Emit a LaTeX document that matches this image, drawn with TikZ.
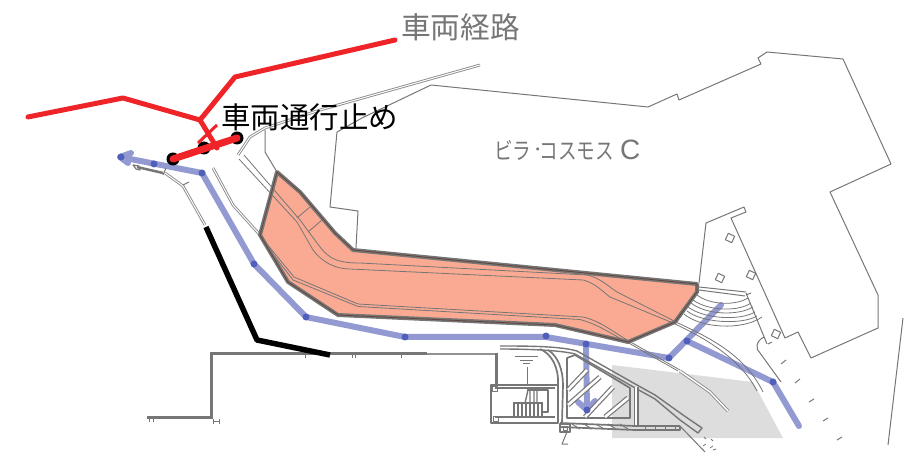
\documentclass[tikz,border=0pt]{standalone}
\usepackage{graphicx}
\usepackage{fontspec}
\setmainfont{Liberation Sans}
\newfontfamily\cjk{Noto Sans CJK JP}
\definecolor{linegray}{RGB}{118,118,118}
\definecolor{routeblue}{RGB}{138,145,206}
\definecolor{dotblue}{RGB}{80,96,186}
\definecolor{routered}{RGB}{238,36,40}
\definecolor{salmon}{RGB}{250,170,146}
\definecolor{apron}{RGB}{221,221,221}
\tikzset{
 thin line/.style={draw=linegray,line width=1pt,line join=round},
 fine line/.style={draw=linegray,line width=.8pt,line join=round},
 wall/.style={draw=linegray,line width=1.7pt,line join=round},
 heavy/.style={draw=linegray,line width=3pt},
 road/.style={draw=linegray!85,double=white,double distance=1pt,line width=.9pt,line join=round},
 hatchbar/.style={draw=linegray,double=white,double distance=2.6pt,line width=1.2pt,line join=round},
 blue route/.style={draw=routeblue,line width=6pt,line join=round,line cap=round,opacity=.92},
 red route/.style={draw=routered,line width=5pt,line join=round,line cap=round},
 black route/.style={draw=black,line width=5.5pt,line join=round},
 bdot/.style={circle,fill=dotblue,inner sep=0pt,minimum size=7pt},
 endpoint/.style={circle,fill=black,inner sep=0pt,minimum size=13pt},
 label text/.style={inner sep=0pt},
}
\begin{document}
\begin{tikzpicture}[x=1pt,y=-1pt]
\useasboundingbox (0,0) rectangle (906,473);
% grey apron
\fill[apron] (612,365) -- (753,382) -- (783,438) -- (612,438) -- cycle;
% orange area
\fill[salmon] (277,172) -- (300,192) -- (335,233) -- (353,250) -- (697,284) -- (697,292) -- (675,322) -- (628,342) -- (555,325) -- (338,315) -- (288,282) -- (260,235) -- cycle;
% blue routes
\draw[blue route] (202,173) -- (254,264) -- (306,317) -- (405,337) -- (546,337) -- (669,358) -- (721,305);
\draw[blue route] (687,341) -- (773,382) -- (799,426);
\draw[blue route] (202,173) -- (120,157) (131,153) -- (120,157) -- (128,163);
\draw[blue route] (586,345) -- (587,410) (578,402) -- (587,410) -- (595,401);
% building outlines
\draw[thin line] (337,132) -- (330,207) -- (358,211) -- (356,248);
\draw[thin line] (337,132) -- (362,118) -- (431,85) -- (648,107) -- (677,94) -- (679,100) -- (761,64) -- (758,58) -- (767,52) -- (843,59) -- (891,164) -- (830,192) -- (878,295) -- (878,328) -- (811,358) -- (798,332) -- (785,338) -- (731,218) -- (746,212) -- (744,207) -- (706,223) -- (699,283);
\draw[road] (480,65) -- (320,110) -- (265,128) -- (250,137) -- (238,155);
\draw[thin line] (265,130) -- (265,152) -- (277,172);
% pillars
\foreach \x/\y in {730/238,720/278,751/275,776/334}{
 \draw[thin line,rotate around={-25:(\x,\y)}] (\x-3.5,\y-3.5) rectangle (\x+3.5,\y+3.5);}
% stepped terrace
\draw[thin line] (699,287) -- (746,292) (699,290) -- (745,296) (746,293) -- (767,344) (746,295) -- (751,293) (768,344) -- (772,342);
\draw[fine line] (697,295) .. controls (710,305) and (735,306) .. (748,298);
\draw[fine line] (693,300) .. controls (708,311) and (738,312) .. (751,303);
\draw[fine line] (691,303) .. controls (706,315) and (738,316) .. (753,307);
\draw[fine line] (688,307) .. controls (704,319) and (740,321) .. (755,312);
\draw[fine line] (687,311) .. controls (702,323) and (742,325) .. (757,316);
\draw[fine line] (684,314) .. controls (700,328) and (742,331) .. (762,317);
% right side entry
\draw[thin line] (764,337) .. controls (756,341) and (755,349) .. (760,353) -- (781,382);
\draw[thin line] (781,364) -- (786,360) (795,383) -- (800,379) (809,402) -- (814,399) (823,421) -- (828,418) (837,440) -- (842,437);
\draw[thin line] (903,318) -- (888,445);
% road lines through site
\draw[road] (213,168) -- (233,205) -- (260,235);
\draw[fine line] (244,155) -- (300,220) -- (320,247) .. controls (330,260) and (340,263) .. (360,263) -- (587,275) .. controls (600,278) and (608,286) .. (617,292) -- (678,323) .. controls (710,338) and (745,355) .. (763,392);
\draw[fine line] (239,159) -- (297,222) -- (313,250) .. controls (322,262) and (335,269) .. (350,269) -- (583,280) .. controls (595,283) and (602,291) .. (610,297) -- (673,323) .. controls (705,338) and (740,358) .. (757,391);
\draw[fine line] (310,207) -- (297,218) (322,220) -- (308,232);
\draw[fine line] (262,238) -- (294,277) -- (358,304) -- (583,317) .. controls (600,321) and (612,331) .. (627,340) -- (680,370);
\draw[fine line] (263,241) -- (293,280) -- (358,306.5) -- (580,319.5) .. controls (597,324) and (610,333) .. (627,342) -- (678,371);
\draw[road,double distance=1.4pt] (680,371) -- (710,392) -- (728,411);
% orange outline
\draw[draw=linegray,line width=4pt,line join=round] (277,172) -- (300,192) -- (335,233) -- (353,250) -- (697,284) -- (697,292) -- (675,322) -- (628,342) -- (555,325) -- (338,315) -- (288,282) -- (260,235) -- cycle;
\draw[draw=black!60!salmon,line width=.8pt,line join=round] (277,172) -- (300,192) -- (335,233) -- (353,250) -- (697,284) -- (697,292) -- (675,322) -- (628,342) -- (555,325) -- (338,315) -- (288,282) -- (260,235) -- cycle;
% left structures
\draw[road] (165,173) -- (183,186) -- (205,225);
\draw[wall,line width=2.5pt] (137,167) -- (163,173);
\draw[wall,line width=1.2pt] (133,165) -- (139,166) -- (140,170) -- (136,169) -- cycle;
\draw[thin line] (163,175) -- (166,168) (183,185) -- (189,182);
% retaining wall
\draw[heavy] (427,354) -- (211,354) -- (211,417) -- (147,417);
\draw[draw=linegray!80,line width=1.5pt] (427,354) -- (497,354);
\draw[heavy] (496,353) -- (496,385);
\draw[thin line] (213,419) -- (213,424) (219,419) -- (219,424) (213,421) -- (219,421) (149,417) -- (149,422) (153,417) -- (153,422);
\draw[fine line] (305,355) -- (305,358) (352,355) -- (352,358) (355,355) -- (355,358) (401,355) -- (401,358);
% lower structure: box
\draw[wall,line width=2.4pt] (491,385) rectangle (558,423);
\draw[wall] (495,388) -- (555,388) (495,417) -- (555,417);
\draw[fine line] (492,386) rectangle (497,391) (493,416) rectangle (498,421);
\draw[wall] (527,390) -- (548,390) -- (548,412) -- (543,412);
\draw[thin line] (527,367) -- (527,385) (515,357) -- (538,357) (520,361) -- (533,361) (523,364) -- (530,364);
\draw[wall] (513,403) -- (543,403) (513,417) -- (543,417);
\foreach \x in {514,518,522,526,530,534,538,542}{\draw[thin line,line width=1.5pt] (\x,403) -- (\x,417);}
\draw[thin line,line width=1.4pt] (525,403) -- (528,390) (530,390) -- (530,403) (534,390) -- (534,403) (537,390) -- (537,403);
% lower structure: quay
\draw[wall,line width=1.4pt] (500,346) .. controls (525,346) and (560,346) .. (577,351) -- (637,385) -- (655,395) -- (683,415) -- (702,428) -- (698,433) -- (680,420) -- (655,399) -- (637,389) -- (575,354) .. controls (560,350) and (525,349) .. (500,349);
\draw[wall] (540,349) .. controls (552,354) and (559,368) .. (558,385);
\draw[wall] (548,350) .. controls (558,356) and (563,370) .. (563,385) -- (562,423);
\draw[hatchbar] (636,387) -- (636,427);
\draw[wall] (560,423) -- (635,426) -- (680,426) (560,427) -- (635,430) -- (680,430) -- (680,426);
\foreach \x in {572,584,596,608,620}{\draw[thin line] (\x,424) -- (\x+8,429);}
\foreach \x in {645,655,665,675}{\draw[fine line] (\x,426) -- (\x,430);}
\draw[wall] (567,358) -- (575,355) -- (630,388) -- (630,418) -- (567,418) -- cycle;
\draw[hatchbar] (568,390) -- (587,370);
\draw[hatchbar] (568,405) -- (600,377);
\draw[hatchbar] (585,417) -- (613,387);
\draw[hatchbar] (605,417) -- (628,398);
\draw[wall] (560,424) rectangle (570,432);
\draw[fine line] (563,426) rectangle (567,430);
\draw[thin line] (567,432) -- (562,444) -- (568,444);
\draw[thin line] (680,426) -- (705,452);
\draw[fine line] (704,437) -- (706,439) (711,439) -- (713,441) (703,446) -- (706,444) (710,448) -- (713,446) (713,450) -- (716,449);
% red route
\coordinate (r0) at (28,117);
\coordinate (r1) at (123,98);
\coordinate (r2) at (200,120);
\coordinate (r3) at (235,77);
\coordinate (r4) at (395,40);
\coordinate (r5) at (217,148);
\coordinate (x1) at (198,143);
\coordinate (x2) at (217,125);
% stop bar
\node[endpoint] (e1) at (173,159) {};
\node[endpoint] (e2) at (204,148) {};
\node[endpoint] (e3) at (237,138) {};
\draw[draw=routered,line width=7pt,line cap=round] (e1.center) -- (e3.center);
\draw[red route] (r0) -- (r1) -- (r2) -- (r5);
\draw[red route] (r2) -- (r3) -- (r4);
\draw[draw=routered,line width=3pt] (x1) -- (x2);
% blue dots
\foreach \n/\x/\y in {d1/121/157,d2/154/164,d3/202/173,d4/254/264,d5/306/317,d6/405/337,d7/546/336,d8/586/344,d9/669/358,d10/687/341,d11/773/382,d12/587/410}{
 \node[bdot] (\n) at (\x,\y) {};}
% black route
\draw[black route] (206,227) -- (257,340) -- (330,355);
% labels
\node[label text,text=linegray,anchor=west,font=\cjk\fontsize{29.7}{30}\selectfont] (t1) at (401,27) {車両経路};
\node[label text,text=black,anchor=west,font=\cjk\fontsize{29.5}{30}\selectfont] (t2) at (221,117) {車両通行止め};
\node[label text,text=linegray,anchor=west] (t3) at (494,150) {\cjk\fontsize{18.6}{20}\selectfont\scalebox{1}[1.25]{ビラ}\kern 2pt\raisebox{3pt}{･}\kern-3pt\scalebox{1}[1.25]{コスモス}\kern 6pt{\fontspec{Liberation Sans}\fontsize{28}{28}\selectfont C}};
\end{tikzpicture}
\end{document}
